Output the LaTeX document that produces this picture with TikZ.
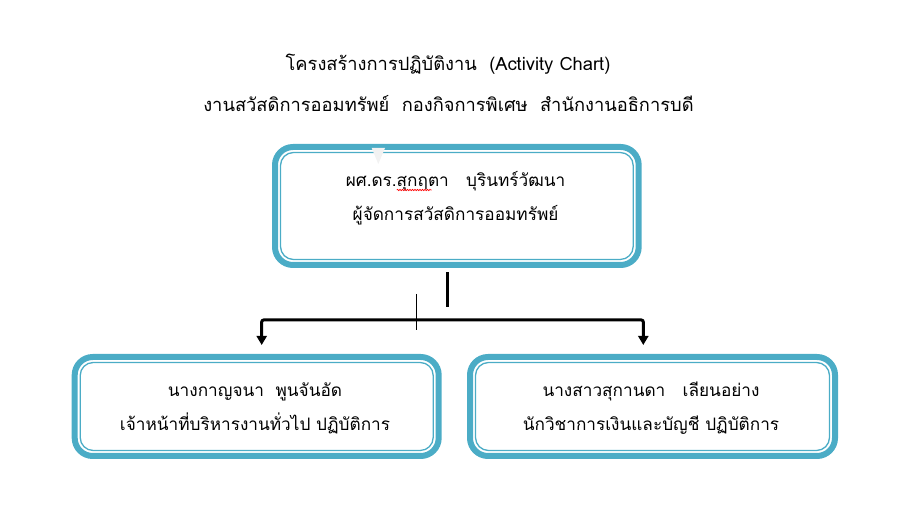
\documentclass[tikz,border=0pt]{standalone}
\usepackage{fontspec}
\setmainfont[Script=Thai]{Loma}
\usetikzlibrary{arrows.meta,decorations.pathmorphing}
\definecolor{boxblue}{HTML}{4BACC6}
\tikzset{
  card/.style={draw=boxblue, line width=6pt, rounded corners=18pt, outer sep=0pt, inner sep=0pt},
  cardline/.style={draw=boxblue, line width=1.3pt, rounded corners=13pt},
  cardtext/.style={align=center, font=\fontsize{17.2}{34}\selectfont},
  headtext/.style={font=\fontsize{18.3}{20}\selectfont},
  stub/.style={line width=3.3pt},
  branch/.style={line width=3pt, rounded corners=2pt, {Triangle[length=9pt,width=10pt]}-{Triangle[length=9pt,width=10pt]}}
}
\begin{document}
\begin{tikzpicture}[x=1pt,y=1pt]
\useasboundingbox (0,0) rectangle (899,532);
% titles
\node[headtext] (title) at (448,468) {โครงสร้างการปฏิบัติงาน\ \ (Activity Chart)};
\node[headtext] (office) at (448.5,428) {งานสวัสดิการออมทรัพย์\ \ กองกิจการพิเศษ\ \ สำนักงานอธิการบดี};
% boxes
\node[card, minimum width=363.7pt, minimum height=118pt] (top) at (456.85,326) {};
\node[card, minimum width=364pt, minimum height=99pt] (left) at (256.7,125.5) {};
\node[card, minimum width=365pt, minimum height=99pt] (right) at (652.5,125.5) {};
\foreach \b in {top,left,right}
  \draw[cardline] ([shift={(5.5,-5.5)}]\b.north west) rectangle ([shift={(-5.5,5.5)}]\b.south east);
\fill[gray!10] (371.7,384) -- (385,384) -- (378.3,368) -- cycle;
% texts
\node[cardtext] (toptext) at ([xshift=-1.3pt,yshift=7.5pt]top.center) {ผศ.ดร.สุกฤตา\ \ \ บุรินทร์วัฒนา\\ผู้จัดการสวัสดิการออมทรัพย์};
\node[cardtext] (lefttext) at ([xshift=-1.7pt,yshift=-2pt]left.center) {นางกาญจนา\ \ พูนจันอัด\\เจ้าหน้าที่บริหารงานทั่วไป ปฏิบัติการ};
\node[cardtext] (righttext) at ([xshift=-1.5pt,yshift=-2pt]right.center) {นางสาวสุกานดา\ \ \ เลียนอย่าง\\นักวิชาการเงินและบัญชี ปฏิบัติการ};
\draw[red, line width=0.6pt, decorate, decoration={snake, amplitude=0.7pt, segment length=2.5pt}] (396.7,342) -- (431.7,342);
% connectors
\coordinate (hub) at (447.3,212);
\draw[stub] ([xshift=-9.55pt,yshift=-7.3pt]top.south) -- ++(0,-34.4);
\draw[line width=1.3pt] (416.7,238) -- (416.7,202);
\draw[branch] ([xshift=5pt,yshift=12pt]left.north) |- (hub) -| ([xshift=-9.2pt,yshift=12pt]right.north);
\end{tikzpicture}
\end{document}
